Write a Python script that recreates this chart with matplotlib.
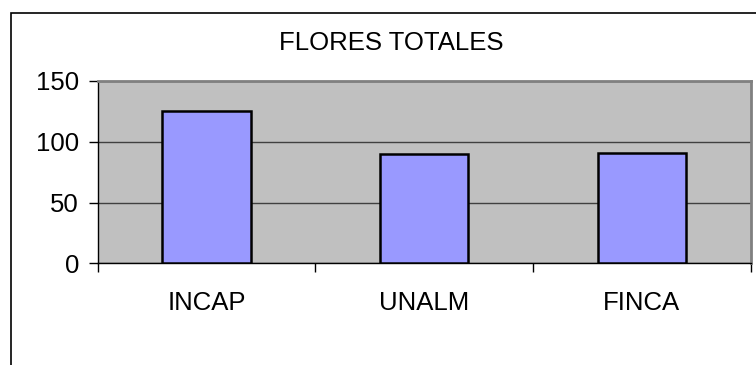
import matplotlib
matplotlib.use('Agg')
import matplotlib.pyplot as plt
from matplotlib.patches import Rectangle

# datos
categorias = ['INCAP', 'UNALM', 'FINCA']
flores = [125, 90, 91]
ticks_y = [0, 50, 100, 150]

plt.rcParams['font.family'] = ['Liberation Sans', 'DejaVu Sans']

fig = plt.figure(figsize=(7.56, 3.65), dpi=100)
W, H = 756.0, 365.0

# marco exterior (se sale por la derecha y abajo)
fig.patches.append(Rectangle((11 / W, 1 - 355.5 / H - 1), 2, 1 + (355.5 - 13) / H,
                             transform=fig.transFigure, fill=False,
                             edgecolor='black', linewidth=1.2))

ax = fig.add_axes([97.7 / W, 1 - 263.3 / H, (750.7 - 97.7) / W, (263.3 - 81) / H])
ax.set_facecolor('#C0C0C0')

x = list(range(len(categorias)))
ax.bar(x, flores, width=0.405, color='#9999FF', edgecolor='black', linewidth=1.8, zorder=3)

ax.set_xlim(-0.5, len(categorias) - 0.5)
ax.set_ylim(0, 150)
ax.set_yticks(ticks_y)
ax.set_yticklabels([str(t) for t in ticks_y], fontsize=18.5)
ax.yaxis.grid(True, color='#404040', linewidth=1.0, zorder=1)
ax.set_axisbelow(True)

# ticks en los limites de categoria, etiquetas centradas
ax.set_xticks([-0.5, 0.5, 1.5, 2.5])
ax.set_xticklabels([])
ax.set_xticks(x, minor=True)
ax.set_xticklabels(categorias, minor=True, fontsize=18.5)
ax.tick_params(axis='x', which='major', direction='out', length=6.5, width=1, color='black')
ax.tick_params(axis='x', which='minor', length=0, pad=20)
ax.tick_params(axis='y', direction='out', length=6.5, width=1, pad=7)

for s in ['top', 'right']:
    ax.spines[s].set_color('#808080')
    ax.spines[s].set_linewidth(2)
for s in ['left', 'bottom']:
    ax.spines[s].set_color('black')
    ax.spines[s].set_linewidth(1)

fig.text(391 / W, 1 - 43 / H, 'FLORES TOTALES', ha='center', va='center', fontsize=18.5)

plt.savefig('out.png', dpi=100)
